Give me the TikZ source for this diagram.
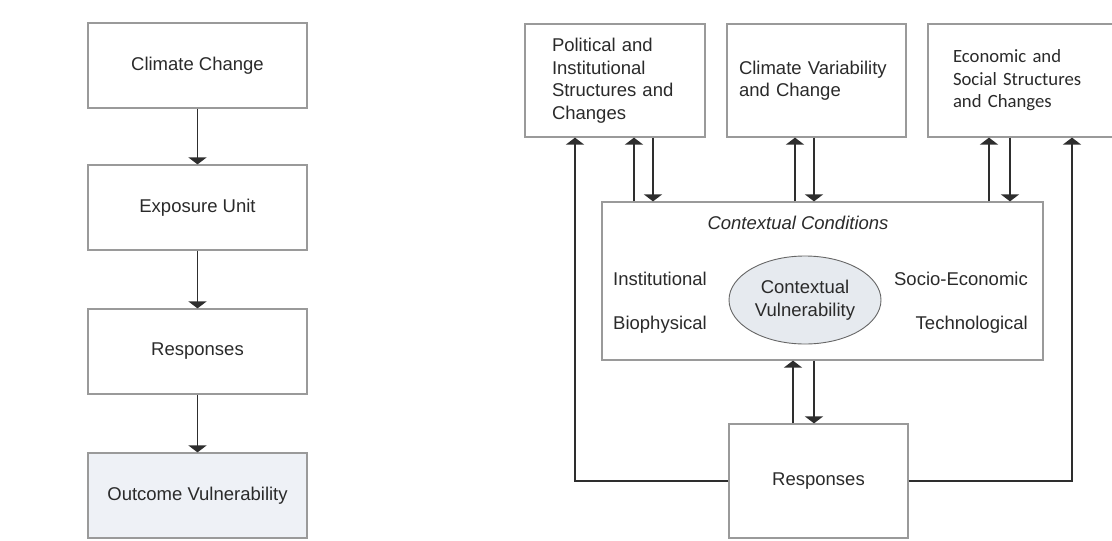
\documentclass[tikz,border=0pt]{standalone}
\usepackage{fontspec}
\setmainfont{Liberation Sans}
\newfontfamily\econfont{Carlito}
\usepackage{xcolor}
\usetikzlibrary{arrows.meta,positioning,shapes.geometric}
\definecolor{boxgray}{HTML}{9A9A9A}
\definecolor{linegray}{HTML}{2E2E2E}
\definecolor{txtgray}{HTML}{2A2A2A}
\definecolor{outfill}{HTML}{EEF1F6}
\definecolor{ellfill}{HTML}{E6EAEF}
\newcommand{\boxfont}{\fontsize{18.5}{22.5}\selectfont}

\begin{document}
\begin{tikzpicture}[x=1pt,y=-1pt,
    box/.style={draw=boxgray, line width=1.2pt, text=txtgray, font=\boxfont,
        minimum width=219pt, minimum height=85pt},
    topbox/.style={draw=boxgray, line width=1.2pt, text=txtgray, font=\boxfont,
        minimum height=113pt, align=left},
    label/.style={text=txtgray, font=\boxfont, inner sep=0pt},
    arr/.style={draw=linegray, line width=1.5pt, -{Triangle[width=18pt,length=7pt]}}]
    \useasboundingbox (0,0) rectangle (1112,541);
    \clip (0,0) rectangle (1112,541);

    % Left: outcome vulnerability chain
    \node[box] (cc) at (197.5,65.5) {Climate Change};
    \node[box] (eu) at (197.5,207.5) {Exposure Unit};
    \node[box] (lresp) at (197.5,351.5) {Responses};
    \node[box, fill=outfill] (ov) at (197.5,495.5) {Outcome Vulnerability};
    \draw[arr] (cc) -- (eu);
    \draw[arr] (eu) -- (lresp);
    \draw[arr] (lresp) -- (ov);

    % Right: top drivers
    \node[topbox, text width=126pt, inner xsep=27pt] (pol) at (615,80.5)
        {Political and\\Institutional\\Structures and\\Changes};
    \node[topbox, text width=155pt, inner xsep=12pt] (cvc) at (816.5,80.5)
        {Climate Variability\\and Change};
    \node[topbox, text width=167pt, inner xsep=25pt, font=\econfont\fontsize{18.7}{22.5}\selectfont] (esc) at (1036.5,80.5)
        {Economic and\\Social Structures\\and Changes};

    % Contextual conditions
    \node[draw=boxgray, line width=1.2pt, minimum width=441pt, minimum height=158pt] (ctx) at (822.5,281) {};
    \node[label, font=\boxfont\itshape] (cclabel) at (798,223) {Contextual Conditions};
    \node[label, anchor=west] (inst) at (613,279) {Institutional};
    \node[label, anchor=west] (bio) at (613,325) {Biophysical};
    \node[label, anchor=east] (socio) at (1028,279) {Socio-Economic};
    \node[label, anchor=east] (tech) at (1028,325) {Technological};
    \node[ellipse, draw=gray!80!black, fill=ellfill, line width=0.9pt, text=txtgray, font=\boxfont,
        minimum width=152pt, minimum height=88pt, inner sep=0pt, align=center] (cv) at (805,300)
        {Contextual\\Vulnerability};

    % Responses
    \node[box, minimum width=179pt, minimum height=114pt] (resp) at (818.5,481) {Responses};

    % Two-way links
    \foreach \u/\d/\n in {634/653/pol, 795/814/cvc, 989/1010/esc} {
        \draw[arr] (ctx.north -| \u,0) -- (\n.south -| \u,0);
        \draw[arr] (\n.south -| \d,0) -- (ctx.north -| \d,0);
    }
    \draw[arr] (resp.north -| 793,0) -- (ctx.south -| 793,0);
    \draw[arr] (ctx.south -| 814,0) -- (resp.north -| 814,0);
    \draw[arr] (resp.west) -| (pol.south -| 575,0);
    \draw[arr] (resp.east) -| (esc.south -| 1072,0);
\end{tikzpicture}
\end{document}
